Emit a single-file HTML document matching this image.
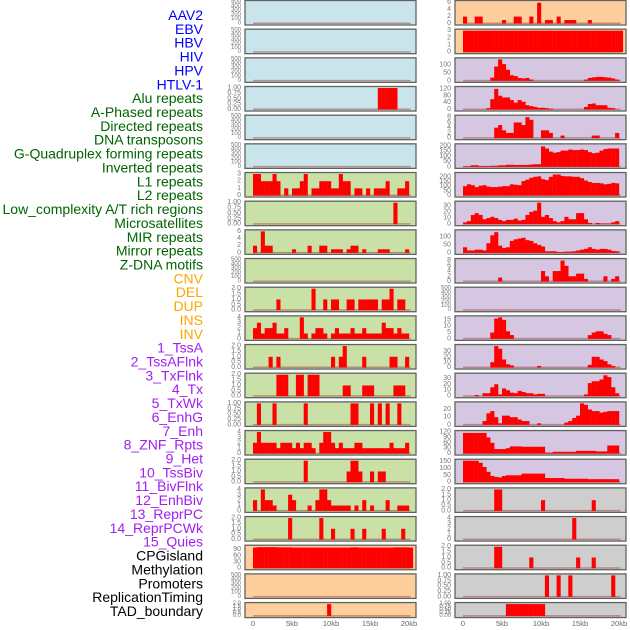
<!DOCTYPE html>
<html><head><meta charset="utf-8"><style>
html,body{margin:0;padding:0;background:#fff;}
svg{display:block;font-family:"Liberation Sans",sans-serif;}
</style></head><body>
<svg id="chart" width="630" height="630" viewBox="0 0 630 630"></svg>
<script>
// ---- data (0.5kb bins starting at 0) ----
const binWidthKb = 0.5;
const xTickKb = [0, 5, 10, 15, 20];
const xTickLabels = ["0", "5kb", "10kb", "15kb", "20kb"];
const trackLabels = ["AAV2","EBV","HBV","HIV","HPV","HTLV-1","Alu repeats","A-Phased repeats","Directed repeats","DNA transposons","G-Quadruplex forming repeats","Inverted repeats","L1 repeats","L2 repeats","Low_complexity A/T rich regions","Microsatellites","MIR repeats","Mirror repeats","Z-DNA motifs","CNV","DEL","DUP","INS","INV","1_TssA","2_TssAFlnk","3_TxFlnk","4_Tx","5_TxWk","6_EnhG","7_Enh","8_ZNF_Rpts","9_Het","10_TssBiv","11_BivFlnk","12_EnhBiv","13_ReprPC","14_ReprPCWk","15_Quies","CPGisland","Methylation","Promoters","ReplicationTiming","TAD_boundary"];
const labelColors = ["#0000ff","#0000ff","#0000ff","#0000ff","#0000ff","#0000ff","#006400","#006400","#006400","#006400","#006400","#006400","#006400","#006400","#006400","#006400","#006400","#006400","#006400","#ffa500","#ffa500","#ffa500","#ffa500","#ffa500","#a020f0","#a020f0","#a020f0","#a020f0","#a020f0","#a020f0","#a020f0","#a020f0","#a020f0","#a020f0","#a020f0","#a020f0","#a020f0","#a020f0","#a020f0","#000","#000","#000","#000","#000"];

const EMPTY = [];
const L3 = [0,0,0,0,0,0,0,0,0,0, 0,0,0,0,0,0,0,0,0,0, 0,0,0,0,0,0,0,0,0,0, 0,0,1,1,1,1,1,0,0,0];
const L6 = [3,3,2,2,2,3,2,0,1,0, 1,1,2,3,0,1,1,2,2,2, 1,1,3,2,2,0,1,1,0,1, 0,1,1,1,2,0,0,1,1,2];
const L7 = [0,0,0,0,0,0,0,0,0,0, 0,0,0,0,0,0,0,0,0,0, 0,0,0,0,0,0,0,0,0,0, 0,0,0,0,0,0,1,0,0,0];
const L8 = [2,0,6,2,2,0,0,0,0,0, 1,0,0,0,2,0,0,2,2,0, 1,1,1,0,1,2,2,0,1,0, 0,0,1,1,1,0,0,0,0,1];
const L10 = [0,0,0,0,0,0,1,0,0,0, 0,0,0,0,0,2,0,0,1,0, 1,1,0,0,1,1,0,1,1,1, 1,1,0,1,1,2,0,1,1,0];
const L11 = [2,3,1,2,2,3,1,1,2,0, 0,0,4,1,0,1,2,2,1,0, 1,2,1,1,1,2,1,1,2,1, 1,1,1,3,2,2,1,2,1,1];
const L12 = [0,0,0,0,1,0,1,0,0,0, 0,0,0,0,0,0,0,0,0,0, 1,0,1,2,0,0,0,0,1,0, 0,0,0,0,0,1,1,0,0,1];
const L13 = [0,0,0,0,0,0,2,2,2,0, 0,2,2,0,2,2,2,0,0,0, 0,0,0,1,1,0,0,0,1,1, 1,0,0,0,0,0,1,1,1,0];
const L14 = [0,1,0,0,0,1,0,0,0,0, 0,0,0,1,0,0,0,0,0,0, 0,0,0,0,0,1,1,0,0,0, 1,0,1,0,1,0,0,1,0,0];
const L15 = [2,4,2,2,2,2,1,2,2,2, 1,2,1,2,2,1,0,2,4,4, 2,1,2,1,1,1,2,2,1,1, 1,1,1,1,1,2,1,1,1,2];
const L16 = [0,0,0,0,0,0,0,0,0,0, 0,0,0,2,0,0,0,0,0,0, 0,0,0,0,1,2,2,1,0,0, 1,0,1,1,0,0,0,0,0,0];
const L17 = [2,0,4,2,2,1,0,0,0,3, 2,0,0,0,1,0,2,4,4,2, 1,1,1,1,1,0,1,0,2,0, 1,0,0,0,2,0,0,1,1,1];
const L18 = [0,0,0,0,0,0,0,0,0,2, 0,0,0,0,0,0,0,2,0,0, 1,0,0,0,0,1,0,0,1,0, 0,0,0,1,0,0,0,0,1,0];
const L19 = [100,102,102,102,102,102,101,101,101,101, 100,100,100,100,100,100,100,100,100,100, 100,100,100,100,100,101,101,100,100,100, 100,100,100,100,100,100,101,101,101,101,100];
const L21 = [0,0,0,0,0,0,0,0,0,0, 0,0,0,0,0,0,0,0,0,2, 0,0,0,0,0,0,0,0,0,0, 0,0,0,0,0,0,0,0,0,0];

const R0 = [2,0,0,2,2,0,0,0,0,0, 1,0,0,2,2,0,0,2,0,6, 0,1,1,0,2,0,1,1,1,0, 0,0,1,0,0,0,0,0,0,0];
const R1 = [3,3,3,3,3,3,3,3,3,3, 3,3,3,3,3,3,3,3,3,3, 3,3,3,3,3,3,3,3,3,3, 3,3,3,3,3,3,3,3,3,3,3];
const R2 = [0,0,0,0,0,0,0,20,90,135, 105,70,35,30,18,15,18,8,0,0, 0,0,0,0,0,0,0,0,0,0, 0,8,18,22,25,25,22,20,15,8];
const R3 = [0,0,0,0,0,0,8,60,120,80, 70,70,55,40,55,45,25,20,15,10, 10,8,5,0,0,0,0,0,0,0, 0,15,32,35,25,25,25,10,8,0];
const R4 = [0,0,0,0,0,0,0,0,4,5, 3,2,2,6,6,5,8,7,0,0, 3,3,2,0,0,1,0,0,0,0, 0,0,0,1,1,0,0,0,0,2];
const R5 = [5,5,15,15,8,8,8,10,10,15, 15,20,20,18,18,18,18,22,25,25, 195,175,145,135,140,155,155,165,160,160, 165,160,140,130,135,155,170,175,175,175];
const R6 = [100,120,110,90,105,110,95,90,90,95, 100,100,120,115,110,155,170,190,200,205, 175,165,200,225,225,210,205,205,200,200, 185,160,145,135,135,130,120,125,135,130];
const R7 = [3,5,15,18,15,8,10,12,10,7, 5,7,7,9,6,7,15,20,22,35, 12,15,10,5,3,5,12,8,8,18, 18,8,2,0,2,1,1,1,3,5];
const R8 = [35,15,15,20,20,15,60,110,130,45, 30,35,75,85,90,95,80,75,60,50, 40,10,10,10,5,5,8,8,10,15, 20,25,35,25,20,25,25,20,12,10];
const R9 = [0,0,0,0,0,0,0,0,0,1.5, 0,0,0,0,0,0,0,0,0,0, 4,2,0,4,4,8,6,2,2,3, 3,1,0,0,0,0,2,0,1,2];
const R11 = [0,0,0,0,0,0,0,5,16,17, 15,6,3,0,0,0,0,0,0,0, 0,0,0,0,0,0,0,0,0,0, 0,0,3,5,6,6,4,3,0,0];
const R12 = [0,0,0,0,0,0,0,10,40,35, 15,6,4,0,0,0,0,0,0,3, 0,0,0,0,0,0,0,0,0,0, 0,0,5,20,20,15,12,6,3,0];
const R13 = [0,0,0,2,0,5,5,15,20,3, 13,10,6,5,9,7,5,5,3,4, 4,0,0,0,0,0,0,0,0,0, 0,3,22,25,25,28,35,32,15,5];
const R14 = [0,0,0,0,0,5,15,18,10,2, 12,12,10,10,7,5,5,0,0,2, 0,0,0,0,0,0,3,5,9,12, 28,26,20,18,18,16,17,18,18,18];
const R15 = [115,115,115,115,115,115,90,60,25,25, 25,30,40,40,40,38,38,38,38,38, 38,5,5,10,10,10,10,10,10,15, 15,15,15,15,12,12,12,45,45,45];
const R16 = [155,155,155,155,140,110,75,45,38,35, 45,50,50,50,50,62,62,62,62,62, 62,30,30,30,30,30,25,25,25,25, 25,25,22,22,22,22,22,22,22,22];
const R17 = [0,0,0,0,0,0,0,0,2,2, 0,0,0,0,0,0,0,0,0,0, 1,0,0,0,0,0,0,0,0,0, 0,0,0,1,0,0,0,0,0,0];
const R18 = [0,0,0,0,0,0,0,0,0,0, 0,0,0,0,0,0,0,0,0,0, 0,0,0,0,0,0,0,0,4,0, 0,0,0,0,0,0,0,0,0,0];
const R19 = [0,0,0,0,0,0,0,0,2,2, 0,0,0,0,0,0,0,1,0,0, 0,0,0,0,0,0,0,0,0,1, 0,0,0,1,0,0,0,0,0,0];
const R20 = [0,0,0,0,0,0,0,0,0,0, 0,0,0,0,0,0,0,0,0,0, 0,1,0,0,1,0,0,1,0,0, 0,0,0,0,0,0,0,0,1,0];
const R21 = [0,0,0,0,0,0,0,0,0,0, 0,1,1,1,1,1,1,1,1,1, 1,0,0,0,0,0,0,0,0,0, 0,0,0,0,0,0,0,0,0,0];

const T500 = ["0","100","200","300","400","500"];
const T1 = ["0.00","0.25","0.50","0.75","1.00"];
const T2 = ["0.0","0.5","1.0","1.5","2.0"];
const T3 = ["0","1","2","3"];
const T4 = ["0","1","2","3","4"];
const T6 = ["0","2","4","6"];
const T8 = ["0","2","4","6","8"];

const BLUE="#c9e4eb", GREEN="#c9e1a6", ORANGE="#fecf9d", PURPLE="#d5c6e2", GRAY="#cecece";
const leftTracks = [
 [EMPTY,T500,500,BLUE],[EMPTY,T500,500,BLUE],[EMPTY,T500,500,BLUE],[L3,T1,1,BLUE],[EMPTY,T500,500,BLUE],[EMPTY,T500,500,BLUE],
 [L6,T3,3,GREEN],[L7,T1,1,GREEN],[L8,T6,6,GREEN],[EMPTY,T500,500,GREEN],[L10,T2,2,GREEN],[L11,T4,4,GREEN],[L12,T2,2,GREEN],
 [L13,T2,2,GREEN],[L14,T1,1,GREEN],[L15,T4,4,GREEN],[L16,T2,2,GREEN],[L17,T4,4,GREEN],[L18,T2,2,GREEN],
 [L19,["0","30","60","90"],104,ORANGE],[EMPTY,T500,500,ORANGE],[L21,T2,2,ORANGE]
];
const rightTracks = [
 [R0,T6,6.2,ORANGE],[R1,T3,3,ORANGE],[R2,["0","50","100"],135,PURPLE],[R3,["0","40","80","120"],125,PURPLE],
 [R4,T8,8.2,PURPLE],[R5,["0","50","100","150","200"],205,PURPLE],[R6,["0","50","100","150","200"],230,PURPLE],
 [R7,["0","10","20","30"],35,PURPLE],[R8,["0","50","100"],135,PURPLE],[R9,T8,8.2,PURPLE],[EMPTY,T500,500,PURPLE],
 [R11,["0","5","10","15"],17,PURPLE],[R12,["0","10","20","30"],40,PURPLE],[R13,["0","10","20","30"],36,PURPLE],
 [R14,["0","10","20"],28,PURPLE],[R15,["0","30","60","90","120"],120,PURPLE],[R16,["0","50","100","150"],155,PURPLE],
 [R17,T2,2,GRAY],[R18,T4,4,GRAY],[R19,T2,2,GRAY],[R20,T1,1,GRAY],[R21,T1,1,GRAY]
];

// ---- drawing ----
const NS="http://www.w3.org/2000/svg";
const svg=document.getElementById('chart');
function mk(tag,attrs,parent){const e=document.createElementNS(NS,tag);for(const k in attrs)e.setAttribute(k,attrs[k]);(parent||svg).appendChild(e);return e;}

// left labels
trackLabels.forEach((t,i)=>{
  const e=mk('text',{x:203,y:15+i*13.86,'text-anchor':'end','dominant-baseline':'central','font-size':14,fill:labelColors[i]});
  
  
  e.textContent=t;
});

const ROW_PITCH=28.67, ROW_H=24.5, KB_PX=7.8;
function drawColumn(tracks,x0,x1,zeroX,side){
  const xs=kb=>zeroX+kb*KB_PX;
  tracks.forEach((tr,r)=>{
    const [vals,ticks,ymax,bg]=tr;
    const top=r*ROW_PITCH+0.5;
    const h=(r===tracks.length-1)?15:ROW_H;
    const g=mk('g',{});
    
    
    mk('rect',{x:x0,y:top,width:x1-x0,height:h,fill:bg},g);
    const yb=top+h-1.5, yt=top+1.5;
    const ys=v=>yb-(v/ymax)*(yb-yt);
    mk('rect',{x:xs(0),y:yb-1,width:xs(20.2)-xs(0),height:1.5,fill:'rgba(150,50,50,0.45)'},g);
    vals.forEach((v,i)=>{
      if(v<=0)return;
      const b=mk('rect',{x:xs(i*binWidthKb),y:ys(v),width:binWidthKb*KB_PX+0.2,height:yb-ys(v),fill:'#ff0000'},g);
      
      
    });
    mk('rect',{x:x0,y:top,width:x1-x0,height:h,fill:'none',stroke:'#5f6460','stroke-width':1.3},g);
    const n=ticks.length, fs=(n>=6||h<20)?6:7;
    ticks.forEach((t,k)=>{
      const maxT=parseFloat(ticks[n-1]);
      const y=yb-(k/(n-1))*(yb-ys(maxT));
      const e=mk('text',{x:x0-4,y:y,'text-anchor':'end','dominant-baseline':'central','font-size':fs,fill:'#777'},g);
      
      
      e.textContent=t;
    });
  });
  xTickKb.forEach((kb,i)=>{
    const e=mk('text',{x:xs(kb),y:626,'text-anchor':'middle','font-size':7.5,fill:'#666'});
    
    
    e.textContent=xTickLabels[i];
  });
}
drawColumn(leftTracks,245,416,253,'left');
drawColumn(rightTracks,455,626,463,'right');
</script>
</body></html>
